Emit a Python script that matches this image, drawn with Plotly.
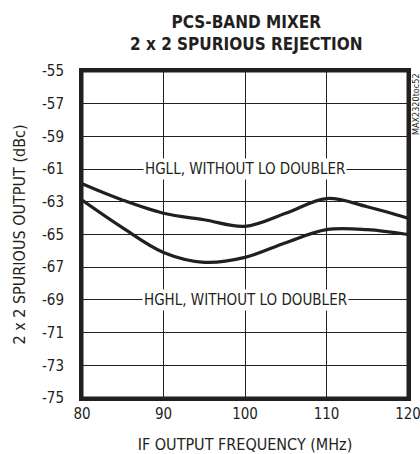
import plotly.graph_objects as go

freq = [80, 85, 90, 95, 100, 105, 110, 115, 120]
hgll = [-61.9, -62.9, -63.7, -64.1, -64.5, -63.7, -62.8, -63.3, -64.0]
hghl = [-62.9, -64.6, -66.1, -66.7, -66.4, -65.5, -64.7, -64.7, -65.0]
xticks = [80, 90, 100, 110, 120]
yticks = list(range(-75, -54, 2))

FONT = "DejaVu Sans Condensed"
INK = "#231f20"

fig = go.Figure()
for ys in (hgll, hghl):
    fig.add_trace(go.Scatter(x=freq, y=ys, mode="lines",
                             line=dict(color=INK, width=3.2, shape="spline", smoothing=1.0),
                             showlegend=False, hoverinfo="skip"))

fig.add_annotation(x=100, y=-61, text="HGLL, WITHOUT LO DOUBLER", showarrow=False,
                   font=dict(family=FONT, size=15, color=INK), bgcolor="white",
                   xref="x", yref="y")
fig.add_annotation(x=100, y=-69, text="HGHL, WITHOUT LO DOUBLER", showarrow=False,
                   font=dict(family=FONT, size=15, color=INK), bgcolor="white",
                   xref="x", yref="y")

fig.add_annotation(x=0.503, y=1, xref="paper", yref="paper", yanchor="middle", yshift=38,
                   text="<b>PCS-BAND MIXER<br>2 x 2 SPURIOUS REJECTION</b>", showarrow=False,
                   font=dict(family=FONT, size=17, color=INK))

fig.add_annotation(x=1.0, y=1.0, xref="paper", yref="paper", xanchor="left", yanchor="top",
                   xshift=1, text="MAX2320toc52", textangle=-90, showarrow=False,
                   font=dict(family=FONT, size=9, color=INK))

# plot frame
fig.add_shape(type="rect", xref="paper", yref="paper", x0=0, x1=1, y0=0, y1=1,
              line=dict(color=INK, width=3), layer="above")

fig.update_layout(
    width=420, height=454,
    margin=dict(l=82, r=12, t=71, b=56, autoexpand=False),
    paper_bgcolor="white", plot_bgcolor="white",
    font=dict(family=FONT, size=15, color=INK),
    xaxis=dict(range=[80, 120], tickvals=xticks, ticktext=[str(v) for v in xticks],
               showgrid=True, gridcolor=INK, gridwidth=1, automargin=False,
               showline=True, linecolor=INK, linewidth=3, mirror=True,
               ticks="", zeroline=False, ticklabeloverflow="allow",
               title=dict(text="IF OUTPUT FREQUENCY (MHz)", font=dict(family=FONT, size=16), standoff=19),
               tickfont=dict(family=FONT, size=15)),
    yaxis=dict(range=[-75, -55], tickvals=yticks, ticktext=[str(v) for v in yticks],
               showgrid=True, gridcolor=INK, gridwidth=1, automargin=False,
               showline=True, linecolor=INK, linewidth=3, mirror=True,
               ticks="", zeroline=False, ticklabelstandoff=12, ticklabeloverflow="allow",
               title=dict(text="2 x 2 SPURIOUS OUTPUT (dBc)", font=dict(family=FONT, size=16), standoff=13),
               tickfont=dict(family=FONT, size=15)),
)

fig.write_html(
    "out.html",
    config={"displayModeBar": False},
    post_script=("document.documentElement.style.margin='0';document.body.style.margin='0';"
                 "document.body.style.padding='0';document.body.style.overflow='hidden';"
                 "document.documentElement.style.overflow='hidden';"),
)
